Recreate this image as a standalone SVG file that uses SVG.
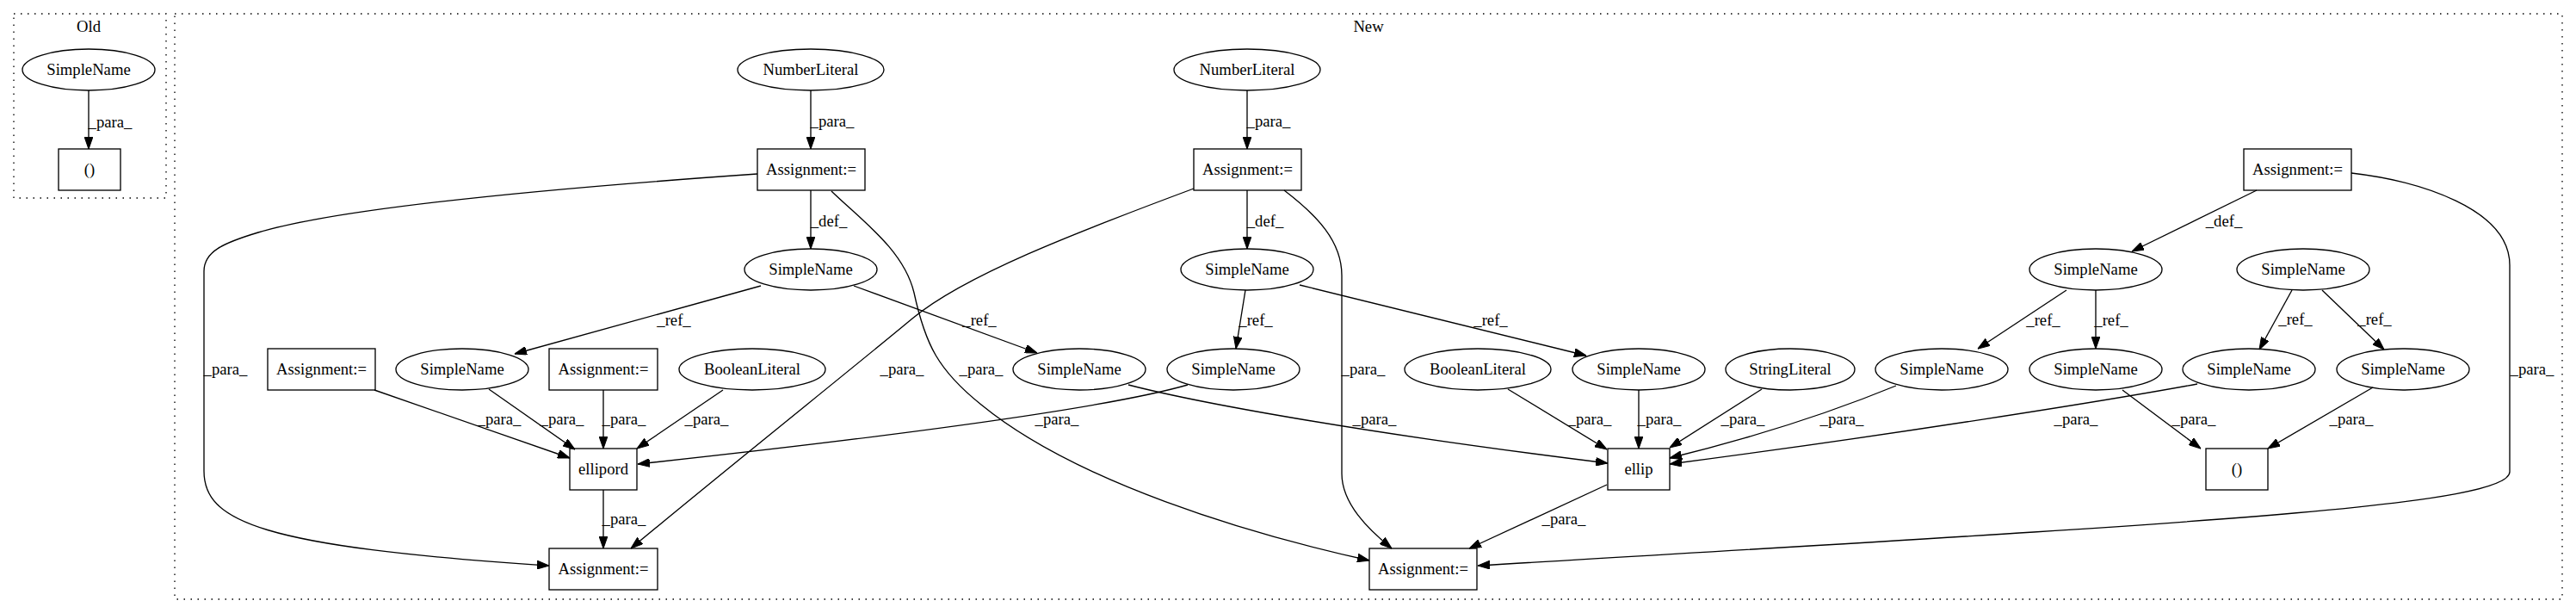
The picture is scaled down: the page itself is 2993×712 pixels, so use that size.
<svg xmlns="http://www.w3.org/2000/svg" width="2993" height="712" viewBox="0 0 2993 712">
<style>
text{font-family:"Liberation Serif","Times New Roman",serif;font-size:18.67px;fill:#000;text-anchor:middle}
.n{fill:none;stroke:#000;stroke-width:1.33}
.c{fill:none;stroke:#000;stroke-width:1.33;stroke-dasharray:1.5,6.5}
.e path{fill:none;stroke:#000;stroke-width:1.33;marker-end:url(#ah)}
</style>
<defs>
<marker id="ah" markerUnits="userSpaceOnUse" markerWidth="14" markerHeight="10" viewBox="0 0 13.33 9.33" refX="13.33" refY="4.67" orient="auto">
<path d="M0,0 L13.33,4.67 L0,9.33 z" fill="#000" stroke="#000" stroke-width="1"/>
</marker>
</defs>
<rect width="2993" height="712" fill="#fff"/>
<g id="cluster_old"><rect class="c" x="16" y="16" width="177" height="214"/><text x="103" y="37">Old</text></g>
<g id="cluster_new"><rect class="c" x="203" y="16" width="2774" height="680"/><text x="1590" y="37">New</text></g>

<g id="old_sn"><ellipse class="n" cx="103" cy="81" rx="77" ry="24"/><text x="103" y="87">SimpleName</text></g>
<g id="old_paren"><rect class="n" x="68" y="173" width="72" height="48"/><text x="104" y="203">()</text></g>

<g id="nl1"><ellipse class="n" cx="942" cy="81" rx="85" ry="24"/><text x="942" y="87">NumberLiteral</text></g>
<g id="a1"><rect class="n" x="880" y="173" width="125" height="48"/><text x="942.5" y="203">Assignment:=</text></g>
<g id="sn1"><ellipse class="n" cx="942" cy="313" rx="77" ry="24"/><text x="942" y="319">SimpleName</text></g>
<g id="nl2"><ellipse class="n" cx="1449" cy="81" rx="85" ry="24"/><text x="1449" y="87">NumberLiteral</text></g>
<g id="a2"><rect class="n" x="1387" y="173" width="125" height="48"/><text x="1449.5" y="203">Assignment:=</text></g>
<g id="sn2"><ellipse class="n" cx="1449" cy="313" rx="77" ry="24"/><text x="1449" y="319">SimpleName</text></g>
<g id="a3"><rect class="n" x="2607" y="173" width="125" height="48"/><text x="2669.5" y="203">Assignment:=</text></g>
<g id="snC"><ellipse class="n" cx="2435" cy="313" rx="77" ry="24"/><text x="2435" y="319">SimpleName</text></g>
<g id="snD"><ellipse class="n" cx="2676" cy="313" rx="77" ry="24"/><text x="2676" y="319">SimpleName</text></g>

<g id="a4"><rect class="n" x="311" y="405" width="125" height="48"/><text x="373.5" y="435">Assignment:=</text></g>
<g id="snL"><ellipse class="n" cx="537" cy="429" rx="77" ry="24"/><text x="537" y="435">SimpleName</text></g>
<g id="a5"><rect class="n" x="638" y="405" width="126" height="48"/><text x="701" y="435">Assignment:=</text></g>
<g id="bl1"><ellipse class="n" cx="874" cy="429" rx="85" ry="24"/><text x="874" y="435">BooleanLiteral</text></g>
<g id="snA"><ellipse class="n" cx="1254" cy="429" rx="77" ry="24"/><text x="1254" y="435">SimpleName</text></g>
<g id="snB"><ellipse class="n" cx="1433" cy="429" rx="77" ry="24"/><text x="1433" y="435">SimpleName</text></g>
<g id="bl2"><ellipse class="n" cx="1717" cy="429" rx="85" ry="24"/><text x="1717" y="435">BooleanLiteral</text></g>
<g id="snE"><ellipse class="n" cx="1904" cy="429" rx="77" ry="24"/><text x="1904" y="435">SimpleName</text></g>
<g id="strl"><ellipse class="n" cx="2080" cy="429" rx="75" ry="24"/><text x="2080" y="435">StringLiteral</text></g>
<g id="snF"><ellipse class="n" cx="2256" cy="429" rx="77" ry="24"/><text x="2256" y="435">SimpleName</text></g>
<g id="snG"><ellipse class="n" cx="2435" cy="429" rx="77" ry="24"/><text x="2435" y="435">SimpleName</text></g>
<g id="snH"><ellipse class="n" cx="2613" cy="429" rx="77" ry="24"/><text x="2613" y="435">SimpleName</text></g>
<g id="snI"><ellipse class="n" cx="2792" cy="429" rx="77" ry="24"/><text x="2792" y="435">SimpleName</text></g>

<g id="ellipord"><rect class="n" x="662" y="521" width="78" height="48"/><text x="701" y="551">ellipord</text></g>
<g id="ellip"><rect class="n" x="1868" y="521" width="72" height="48"/><text x="1904" y="551">ellip</text></g>
<g id="paren"><rect class="n" x="2563" y="521" width="72" height="48"/><text x="2599" y="551">()</text></g>
<g id="b1"><rect class="n" x="638" y="637" width="126" height="48"/><text x="701" y="667">Assignment:=</text></g>
<g id="b2"><rect class="n" x="1591" y="637" width="125" height="48"/><text x="1653.5" y="667">Assignment:=</text></g>

<g id="connectors" class="e">
<path d="M103,105 L103,173"/>
<path d="M942,105 L942,173"/>
<path d="M942,221 L942,289"/>
<path d="M880,202 C650,218 400,240 300,270 C260,282 237,292 237,315 L237,547 C237,605 300,635 638,657"/>
<path d="M966,222 C1000,255 1050,290 1062,340 C1075,400 1090,430 1140,470 C1250,560 1450,620 1591,651"/>
<path d="M1449,105 L1449,173"/>
<path d="M1449,221 L1449,289"/>
<path d="M1387,219 C1250,270 1120,320 1060,370 C1000,420 850,540 733,637"/>
<path d="M1492,221 C1530,250 1559,280 1559,320 L1559,550 C1559,585 1590,615 1617,637"/>
<path d="M884,332 L598,411"/>
<path d="M992,332 L1205,410"/>
<path d="M1447,337 L1436,405"/>
<path d="M1510,331 L1843,413"/>
<path d="M1380,447 C1300,470 1100,500 741,539"/>
<path d="M1311,447 C1400,470 1600,505 1868,538"/>
<path d="M435,453 L662,532"/>
<path d="M568,452 L668,522"/>
<path d="M701,453 L701,521"/>
<path d="M840,453 L740,521"/>
<path d="M701,569 L701,637"/>
<path d="M1752,452 L1867,522"/>
<path d="M1904,453 L1904,521"/>
<path d="M2047,452 L1940,520"/>
<path d="M2203,448 C2130,478 2050,505 1940,532"/>
<path d="M2553,446 C2450,465 2200,505 1940,539"/>
<path d="M1867,563 L1707,637"/>
<path d="M2622,221 L2477,292"/>
<path d="M2732,201 C2810,210 2916,242 2916,308 L2916,548 C2916,590 2500,610 1717,657"/>
<path d="M2401,337 L2298,405"/>
<path d="M2435,337 L2435,405"/>
<path d="M2663,337 L2625,406"/>
<path d="M2698,337 L2770,406"/>
<path d="M2466,453 L2557,521"/>
<path d="M2757,450 L2635,521"/>
<text x="128" y="148">_para_</text>
<text x="967" y="147">_para_</text>
<text x="963" y="263">_def_</text>
<text x="262" y="435">_para_</text>
<text x="1140" y="435">_para_</text>
<text x="1474" y="147">_para_</text>
<text x="1470" y="263">_def_</text>
<text x="1048" y="435">_para_</text>
<text x="1584" y="435">_para_</text>
<text x="783" y="378">_ref_</text>
<text x="1138" y="378">_ref_</text>
<text x="1459" y="378">_ref_</text>
<text x="1732" y="378">_ref_</text>
<text x="1228" y="493">_para_</text>
<text x="1597" y="493">_para_</text>
<text x="580" y="493">_para_</text>
<text x="653" y="493">_para_</text>
<text x="725" y="493">_para_</text>
<text x="821" y="493">_para_</text>
<text x="725" y="609">_para_</text>
<text x="1847" y="493">_para_</text>
<text x="1928" y="493">_para_</text>
<text x="2025" y="493">_para_</text>
<text x="2140" y="493">_para_</text>
<text x="2412" y="493">_para_</text>
<text x="1817" y="609">_para_</text>
<text x="2584" y="263">_def_</text>
<text x="2942" y="435">_para_</text>
<text x="2374" y="378">_ref_</text>
<text x="2453" y="378">_ref_</text>
<text x="2667" y="377">_ref_</text>
<text x="2759" y="377">_ref_</text>
<text x="2549" y="493">_para_</text>
<text x="2732" y="493">_para_</text>
</g>
</svg>
